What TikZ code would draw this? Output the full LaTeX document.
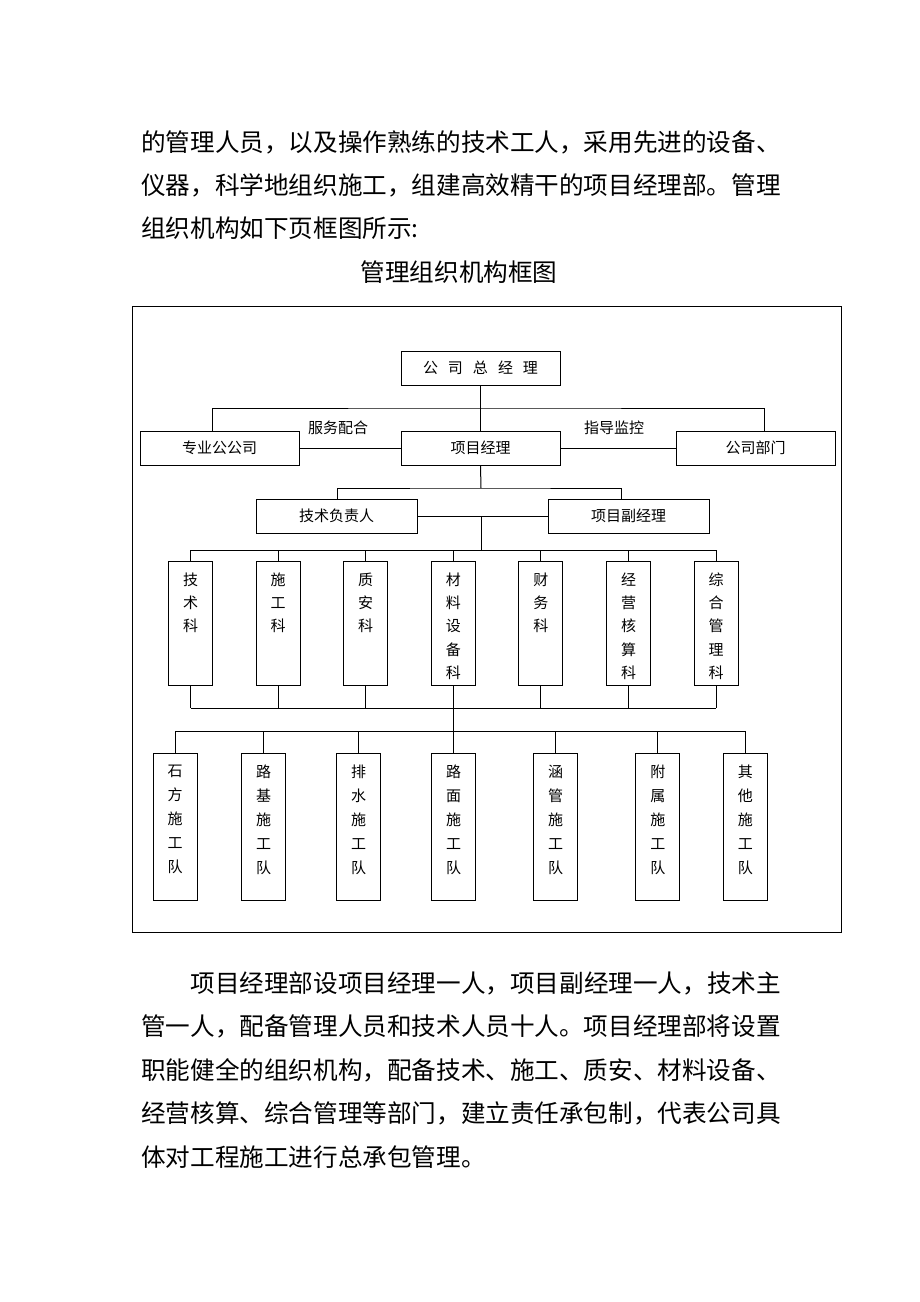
\documentclass[tikz,border=0pt]{standalone}
\usepackage{fontspec}
\newfontfamily\cjk{Noto Sans CJK SC}
\begin{document}
\begin{tikzpicture}[x=1pt,y=-1pt,
  box/.style={draw, line width=1pt, inner sep=0pt, font=\cjk\fontsize{15}{15}\selectfont},
  dbox/.style={draw, line width=1pt, inner sep=0pt, minimum width=44pt, minimum height=124pt},
  tbox/.style={draw, line width=1pt, inner sep=0pt, minimum width=44pt, minimum height=147pt},
  conn/.style={line width=1pt},
  dtext/.style={font=\cjk\fontsize{15}{23.3}\selectfont, align=center, anchor=north, inner sep=0pt, yshift=-12pt},
  ttext/.style={font=\cjk\fontsize{15}{24.1}\selectfont, align=center, anchor=north, inner sep=0pt, yshift=-12pt},
  body/.style={font=\cjk\fontsize{24.6}{24.6}\selectfont, anchor=base west, inner sep=0pt},
  lab/.style={font=\cjk\fontsize{15}{15}\selectfont, inner sep=0pt}]
\useasboundingbox[fill=white] (0,0) rectangle (920,1302);

% text above
\node[body] (p1) at (141,151.4) {的管理人员，以及操作熟练的技术工人，采用先进的设备、};
\node[body] (p2) at (141,194.4) {仪器，科学地组织施工，组建高效精干的项目经理部。管理};
\node[body] (p3) at (141,237.4) {组织机构如下页框图所示:};
\node[body, anchor=base] (title) at (459,281.4) {管理组织机构框图};

% frame
\draw[line width=0.8pt] (132,306) rectangle (841,932);

% top level
\node[box, minimum width=159pt, minimum height=34pt] (gm) at (480.5,368) {公\hspace{10pt}司\hspace{10pt}总\hspace{10pt}经\hspace{10pt}理};
\node[box, minimum width=159pt, minimum height=34pt] (zy) at (219.5,448) {专业公公司};
\node[box, minimum width=159pt, minimum height=34pt] (pm) at (480.5,448) {项目经理};
\node[box, minimum width=159pt, minimum height=34pt] (bm) at (755.5,448) {公司部门};
\node[lab] (l1) at (338,428) {服务配合};
\node[lab] (l2) at (614,428) {指导监控};

\coordinate (zyT) at (212,431);
\coordinate (bmT) at (764,431);
\draw[conn] (gm.south) -- (pm.north);
\draw[conn] (zyT) |- (481,408) -| (bmT);
\draw[conn] (zy.east) -- (pm.west);
\draw[conn] (pm.east) -- (bm.west);

% second level
\node[box, minimum width=161pt, minimum height=34pt] (tl) at (336.5,516) {技术负责人};
\node[box, minimum width=161pt, minimum height=34pt] (dm) at (628.5,516) {项目副经理};
\coordinate (tlT) at (337,499);
\coordinate (dmT) at (621,499);
\coordinate (j1) at (481,488);
\coordinate (j2) at (481,516);
\coordinate (j3) at (481,550);
\draw[conn] (pm.south) -- (j1);
\draw[conn] (tlT) |- (j1) -| (dmT);
\draw[conn] (tl.east) -- (dm.west);
\draw[conn] (j2) -- (j3);

% departments
\foreach \i/\x/\t in {1/190.5/{技\\术\\科},2/278.1/{施\\工\\科},3/365.7/{质\\安\\科},4/453.3/{材\\料\\设\\备\\科},5/540.9/{财\\务\\科},6/628.5/{经\\营\\核\\算\\科},7/716.1/{综\\合\\管\\理\\科}}{
  \node[dbox] (d\i) at (\x,623) {};
  \node[dtext] (dt\i) at (d\i.north) {\t};
  \draw[conn] (d\i.north) -- (\x,550);
  \draw[conn] (d\i.south) -- (\x,708);
}
\draw[conn] (d1.north |- j3) -- (d7.north |- j3);
\coordinate (j4) at (453.3,708);
\coordinate (j5) at (453.3,731);
\draw[conn] (d1.south |- j4) -- (d7.south |- j4);
\draw[conn] (j4) -- (j5);

% teams
\foreach \i/\x/\t in {1/175/{石\\方\\施\\工\\队},2/263.7/{路\\基\\施\\工\\队},3/358.7/{排\\水\\施\\工\\队},4/453.7/{路\\面\\施\\工\\队},5/555.6/{涵\\管\\施\\工\\队},6/657.8/{附\\属\\施\\工\\队},7/745.3/{其\\他\\施\\工\\队}}{
  \node[tbox] (t\i) at (\x,826.5) {};
  \node[ttext] (tt\i) at (t\i.north) {\t};
  \draw[conn] (t\i.north) -- (\x,731);
}
\draw[conn] (t1.north |- j5) -- (t7.north |- j5);

% text below
\node[body] (q1) at (190.2,992.4) {项目经理部设项目经理一人，项目副经理一人，技术主};
\node[body] (q2) at (141,1035.9) {管一人，配备管理人员和技术人员十人。项目经理部将设置};
\node[body] (q3) at (141,1079.4) {职能健全的组织机构，配备技术、施工、质安、材料设备、};
\node[body] (q4) at (141,1122.9) {经营核算、综合管理等部门，建立责任承包制，代表公司具};
\node[body] (q5) at (141,1166.4) {体对工程施工进行总承包管理。};
\end{tikzpicture}
\end{document}
